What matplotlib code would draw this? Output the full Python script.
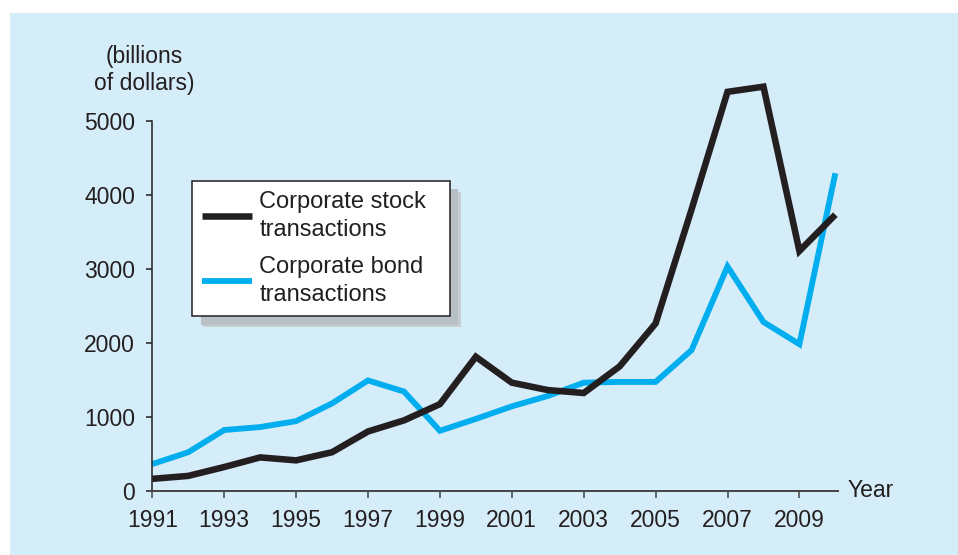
import matplotlib.pyplot as plt
import matplotlib.patheffects as pe
from matplotlib.patches import Rectangle

plt.rcParams['font.family'] = ['Liberation Sans', 'DejaVu Sans']

# data (billions of dollars)
years = list(range(1991, 2011))
stock = [160, 200, 320, 450, 410, 520, 800, 950, 1170, 1810,
         1460, 1360, 1320, 1680, 2260, 3800, 5390, 5460, 3240, 3730]
bond = [360, 520, 820, 860, 940, 1180, 1490, 1340, 810, 970,
        1140, 1280, 1460, 1470, 1470, 1900, 3030, 2280, 1980, 4290]
xticks = list(range(1991, 2010, 2))
yticks = [0, 1000, 2000, 3000, 4000, 5000]

W, H = 958, 555
ink = '#231F20'
blue = '#00AEEF'
panel = '#D5ECF9'

fig = plt.figure(figsize=(W / 100, H / 100), dpi=100)
fig.patch.set_facecolor('white')
fig.patches.append(Rectangle((10 / W, 0), 1, (H - 13) / H, transform=fig.transFigure,
                             facecolor=panel, edgecolor='none', zorder=-1))

# axes placed in pixel terms: 1991 at x=152, 0 at y=491, 5000 at y=121
x0, y0 = 152.3, 490.7
ppy = 35.95
ax = fig.add_axes([x0 / W, (H - y0) / H, 19.07 * ppy / W, 370 / H])
ax.set_facecolor('none')

ax.plot(years, stock, color=ink, lw=4.7, solid_joinstyle='miter', solid_capstyle='butt',
        clip_on=False, zorder=3, label='Corporate stock\ntransactions')
ax.plot(years, bond, color=blue, lw=4.2, solid_joinstyle='miter', solid_capstyle='butt',
        clip_on=False, zorder=2, label='Corporate bond\ntransactions')

ax.set_xlim(1991, 2010.07)
ax.set_ylim(0, 5000)
ax.set_xticks(xticks)
ax.set_yticks(yticks)
ax.spines['top'].set_visible(False)
ax.spines['right'].set_visible(False)
ax.spines['left'].set_color(ink)
ax.spines['left'].set_linewidth(1.1)
ax.spines['bottom'].set_color('#444444')
ax.spines['bottom'].set_linewidth(1.4)
ax.tick_params(axis='y', direction='out', length=4.5, width=1.1, color=ink,
               labelsize=16.5, labelcolor=ink, pad=8)
ax.tick_params(axis='x', direction='out', length=5, width=1.1, color='#444444',
               labelsize=16.5, labelcolor=ink, pad=8)

# legend box spans x 192..450, y 181..318 px
leg = ax.legend(loc='upper left',
                bbox_to_anchor=(192.3 / W, 1 - 317.7 / H, (450 - 192.3) / W, (317.7 - 181) / H),
                bbox_transform=fig.transFigure, mode='expand', borderaxespad=0, fontsize=17,
                handlelength=2.1, handletextpad=0.32, borderpad=0.42,
                labelspacing=0.63, fancybox=False, framealpha=1,
                edgecolor=ink, labelcolor=ink)
for t in leg.get_texts():
    t.set_linespacing(1.37)
frame = leg.get_frame()
frame.set_linewidth(1.1)
frame.set_path_effects([pe.SimplePatchShadow(offset=(8, -8), shadow_rgbFace='#c6cdd2', alpha=1),
                        pe.SimplePatchShadow(offset=(6, -6), shadow_rgbFace='#b8c0c6', alpha=1),
                        pe.Normal()])

fig.text(144.5 / W, 1 - 45 / H, '(billions\nof dollars)', ha='center', va='top',
         fontsize=16.5, color=ink, linespacing=1.22)
fig.text(848 / W, (H - 497.3) / H, 'Year', ha='left', va='baseline',
         fontsize=16.5, color=ink)

fig.savefig('out.png', dpi=100)
